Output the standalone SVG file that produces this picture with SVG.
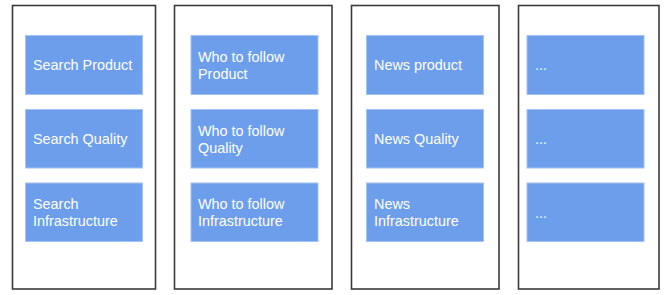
<svg xmlns="http://www.w3.org/2000/svg" width="667" height="295" viewBox="0 0 667 295">
<style>
.col{fill:#fff;stroke:#3a3a3a;stroke-width:1.6}
.box{fill:#6d9eeb;stroke:#a4c2f4;stroke-width:1}
.t{font-family:"Liberation Sans",Arial,sans-serif;font-size:14.4px;fill:#fff}
</style>
<rect width="667" height="295" fill="#fff"/>
<g id="col-search">
<rect class="col" x="12.5" y="5.5" width="143" height="283.5"/>
<g id="search-product"><rect class="box" x="25.5" y="35.5" width="117" height="59"/><text class="t" x="33" y="70">Search Product</text></g>
<g id="search-quality"><rect class="box" x="25.5" y="109.5" width="117" height="58.5"/><text class="t" x="33" y="144">Search Quality</text></g>
<g id="search-infra"><rect class="box" x="25.5" y="183" width="117" height="58.5"/><text class="t" x="33" y="209">Search</text><text class="t" x="33" y="225.5">Infrastructure</text></g>
</g>
<g id="col-wtf">
<rect class="col" x="174.5" y="5.5" width="157.5" height="283.5"/>
<g id="wtf-product"><rect class="box" x="191" y="35.5" width="127" height="59"/><text class="t" x="198" y="62">Who to follow</text><text class="t" x="198" y="78.5">Product</text></g>
<g id="wtf-quality"><rect class="box" x="191" y="109.5" width="127" height="58.5"/><text class="t" x="198" y="136">Who to follow</text><text class="t" x="198" y="152.5">Quality</text></g>
<g id="wtf-infra"><rect class="box" x="191" y="183" width="127" height="58.5"/><text class="t" x="198" y="209">Who to follow</text><text class="t" x="198" y="225.5">Infrastructure</text></g>
</g>
<g id="col-news">
<rect class="col" x="351.5" y="5.5" width="147.5" height="283.5"/>
<g id="news-product"><rect class="box" x="366.5" y="35.5" width="117" height="59"/><text class="t" x="374" y="70">News product</text></g>
<g id="news-quality"><rect class="box" x="366.5" y="109.5" width="117" height="58.5"/><text class="t" x="374" y="144">News Quality</text></g>
<g id="news-infra"><rect class="box" x="366.5" y="183" width="117" height="58.5"/><text class="t" x="374" y="209">News</text><text class="t" x="374" y="225.5">Infrastructure</text></g>
</g>
<g id="col-more">
<rect class="col" x="518.5" y="5.5" width="140.5" height="283.5"/>
<g id="more-1"><rect class="box" x="527" y="35.5" width="117" height="59"/><text class="t" x="535" y="70">...</text></g>
<g id="more-2"><rect class="box" x="527" y="109.5" width="117" height="58.5"/><text class="t" x="535" y="144">...</text></g>
<g id="more-3"><rect class="box" x="527" y="183" width="117" height="58.5"/><text class="t" x="535" y="218">...</text></g>
</g>
<g id="connectors"/>
</svg>
